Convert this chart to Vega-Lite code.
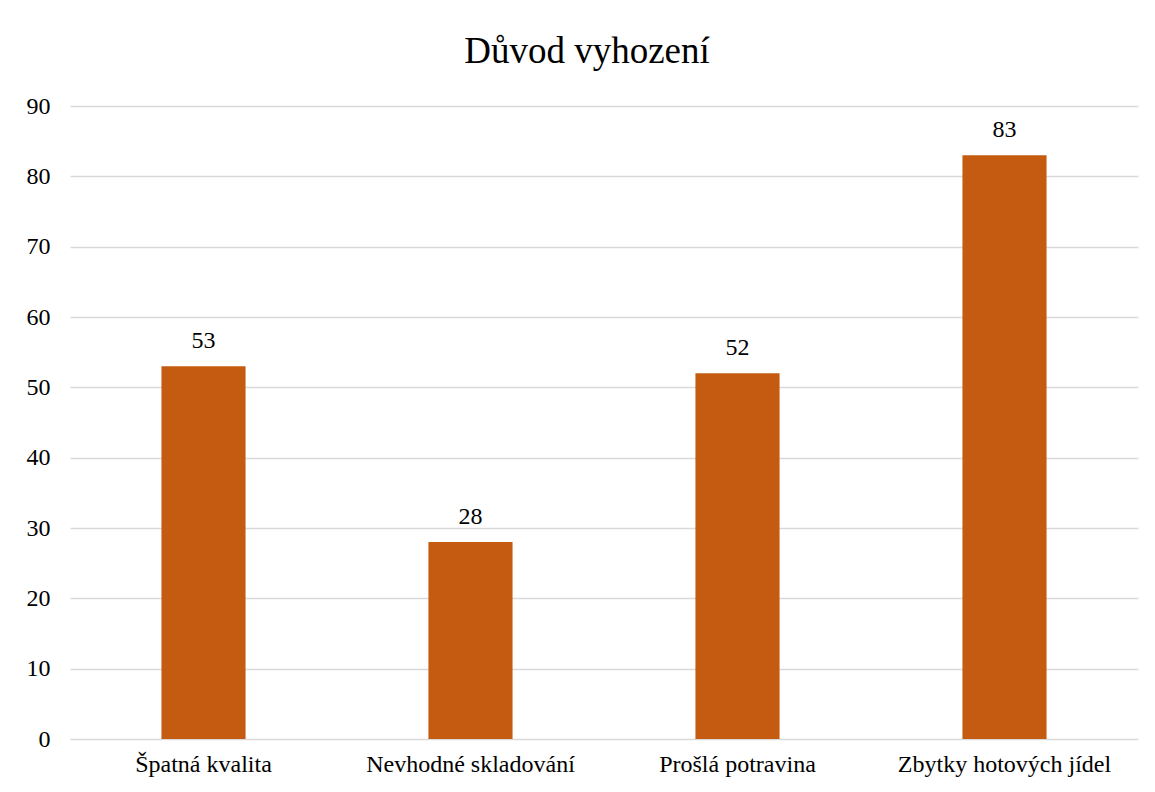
{
  "$schema": "https://vega.github.io/schema/vega-lite/v6.json",
  "autosize": {"type": "none"},
  "width": 1068,
  "height": 633,
  "padding": {"left": 70, "top": 106, "right": 17, "bottom": 53},
  "background": "white",
  "config": {
    "font": "Liberation Serif",
    "view": {"stroke": null}
  },
  "title": {
    "text": "Důvod vyhození",
    "font": "Liberation Serif",
    "fontSize": 37,
    "fontWeight": "normal",
    "color": "#000000",
    "anchor": "middle",
    "frame": "group",
    "baseline": "alphabetic",
    "offset": -6,
    "dx": -17
  },
  "data": {
    "values": [
      {"duvod": "Špatná kvalita", "pocet": 53},
      {"duvod": "Nevhodné skladování", "pocet": 28},
      {"duvod": "Prošlá potravina", "pocet": 52},
      {"duvod": "Zbytky hotových jídel", "pocet": 83}
    ]
  },
  "encoding": {
    "x": {
      "field": "duvod",
      "type": "nominal",
      "sort": null,
      "scale": {"paddingInner": 0.685, "paddingOuter": 0.3425},
      "axis": {
        "title": null,
        "labelAngle": 0,
        "labelFont": "Liberation Serif",
        "labelFontSize": 24,
        "labelColor": "#000000",
        "labelPadding": 13,
        "labelLimit": 0,
        "labelOverlap": false,
        "ticks": false,
        "domain": false,
        "grid": false
      }
    },
    "y": {
      "field": "pocet",
      "type": "quantitative",
      "scale": {"domain": [0, 90]},
      "axis": {
        "title": null,
        "values": [0, 10, 20, 30, 40, 50, 60, 70, 80, 90],
        "labelFont": "Liberation Serif",
        "labelFontSize": 24,
        "labelColor": "#000000",
        "labelPadding": 20,
        "ticks": false,
        "domain": false,
        "grid": true,
        "gridColor": "#d9d9d9",
        "gridWidth": 1.5
      }
    }
  },
  "layer": [
    {"mark": {"type": "bar", "color": "#C55A11"}},
    {
      "mark": {
        "type": "text",
        "font": "Liberation Serif",
        "fontSize": 24,
        "color": "#000000",
        "baseline": "alphabetic",
        "dy": -18
      },
      "encoding": {"text": {"field": "pocet", "type": "quantitative"}}
    }
  ]
}
